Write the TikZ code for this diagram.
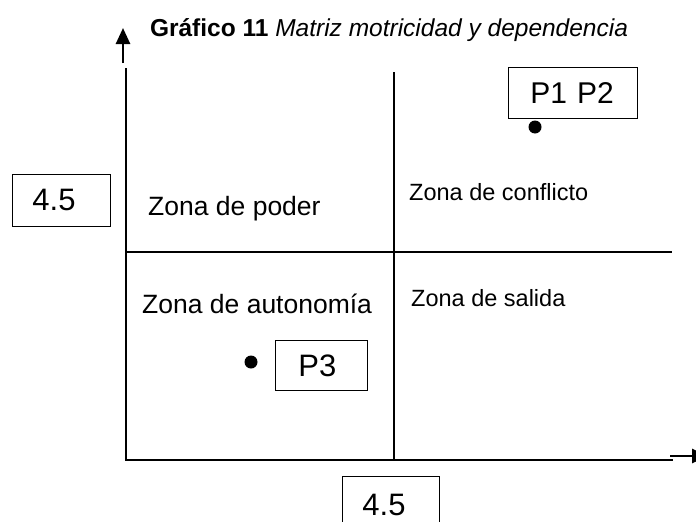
\documentclass[tikz,border=0pt]{standalone}
\usepackage{fontspec}
\setmainfont{Liberation Sans}
\usetikzlibrary{arrows.meta}

\begin{document}
\begin{tikzpicture}[x=1pt,y=-1pt,
  zone_node/.style={anchor=base west, inner sep=0, font=\fontsize{26.5}{26.5}\selectfont},
  box_node/.style={draw, line width=0.9pt, anchor=north west, inner xsep=20pt, inner ysep=0pt, align=left, minimum height=52pt, font=\fontsize{31}{31}\selectfont},
  dot_node/.style={circle, fill, inner sep=0, minimum size=13pt},
  axis/.style={line width=2.6pt}]
    \useasboundingbox (0,0) rectangle (696,522);

    \node[font=\fontsize{24.5}{24.5}\selectfont] (t) at (389,30) {\textbf{Gráfico 11} \textit{Matriz motricidad y dependencia}};

    \coordinate (o) at (126,460);
    \coordinate (ytop) at (126,68);
    \coordinate (xend) at (673,460);
    \coordinate (mtop) at (394,72);
    \coordinate (mbot) at (394,460);
    \coordinate (hl) at (126,252);
    \coordinate (hr) at (672,252);
    \coordinate (ya1) at (123,63);
    \coordinate (ya2) at (123,28);
    \coordinate (xa1) at (670,456);
    \coordinate (xa2) at (708,456);

    \draw[axis] (ytop) -- (o) -- (xend);
    \draw[axis] (mtop) -- (mbot);
    \draw[axis] (hl) -- (hr);
    \draw[axis, -{Triangle[width=14pt,length=16pt]}] (ya1) -- (ya2);
    \draw[axis, -{Triangle[width=14pt,length=16pt]}] (xa1) -- (xa2);

    \node[zone_node] (1) at (148,215) {Zona de poder};
    \node[zone_node, font=\fontsize{23.5}{23.5}\selectfont] (2) at (409,200) {Zona de conflicto};
    \node[zone_node] (3) at (142,313) {Zona de autonomía};
    \node[zone_node, font=\fontsize{23.5}{23.5}\selectfont] (4) at (411,306) {Zona de salida};

    \node[box_node, text width=58pt] (5) at (12,174) {4.5};
    \node[box_node, inner xsep=22pt, text width=85pt, minimum height=51pt, font=\fontsize{30}{30}\selectfont] (6) at (508,67) {P1 P2};
    \node[box_node, inner xsep=23pt, text width=46pt, minimum height=50pt] (7) at (275,340) {P3};
    \node[box_node, text width=57pt, minimum height=58pt] (8) at (342,476) {4.5};

    \node[dot_node] (9) at (535,127) {};
    \node[dot_node] (10) at (251,362) {};

\end{tikzpicture}
\end{document}
